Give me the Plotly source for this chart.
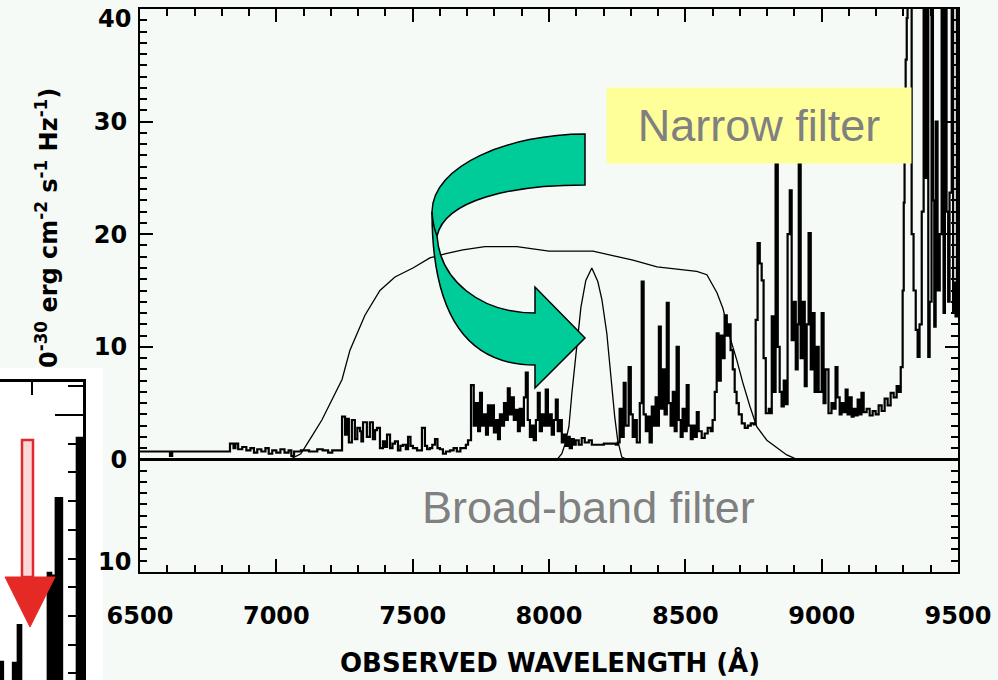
import plotly.graph_objects as go

W, H = 998, 680

# ---------------- data ----------------
spec_wave = [6500, 6610, 6618, 6830, 6843, 6850, 6860, 6875, 6890, 6905, 6918, 6930, 6945, 6960, 6972, 6985,
             7000, 7015, 7030, 7045, 7055, 7065, 7090, 7120, 7150, 7170, 7190, 7205, 7241, 7252, 7259, 7266,
             7277, 7288, 7297, 7307, 7312, 7318, 7332, 7343, 7354, 7362, 7369, 7380, 7391, 7398, 7406, 7417,
             7426, 7435, 7446, 7455, 7464, 7475, 7483, 7492, 7501, 7516, 7534, 7545, 7553, 7563, 7572, 7582,
             7591, 7600, 7611, 7622, 7637, 7650, 7662, 7675, 7684, 7695, 7703,
             7714, 7724, 7732, 7740, 7747, 7754, 7761, 7769, 7776, 7783, 7791, 7798, 7805, 7813, 7820, 7827,
             7835, 7842, 7849, 7856, 7864, 7871, 7878, 7886, 7893, 7900, 7908, 7915, 7922, 7930, 7937, 7944,
             7952, 7959, 7966, 7974, 7981, 7988, 7996, 8003, 8010, 8018, 8025, 8032, 8040, 8047, 8054, 8062,
             8069, 8076, 8084, 8091, 8098, 8109, 8120, 8131, 8146, 8157, 8201, 8245,
             8252, 8259, 8267, 8274, 8281, 8292, 8300, 8307, 8314, 8322, 8333, 8340, 8347, 8355, 8362, 8369,
             8377, 8384, 8391, 8399, 8403, 8410, 8417, 8424, 8432, 8439, 8446, 8454, 8461, 8468, 8476, 8483,
             8490, 8498, 8505, 8512, 8520, 8527, 8534, 8542, 8549, 8560, 8571, 8582, 8593, 8600, 8608, 8615,
             8622, 8630, 8637, 8644, 8652, 8659, 8666, 8674, 8681, 8688, 8696, 8707, 8718, 8729, 8740, 8751,
             8758, 8765, 8773, 8780, 8787, 8795, 8806, 8813, 8817, 8824, 8831, 8839, 8846, 8853, 8861, 8868,
             8875, 8883, 8890, 8897, 8905, 8912, 8916, 8923, 8930, 8938, 8945, 8952, 8960, 8967, 8974, 8982,
             8989, 9000, 9007, 9014, 9025, 9036, 9044, 9051, 9058, 9066, 9073, 9080, 9088, 9095, 9102, 9110,
             9117, 9124, 9132, 9139, 9146, 9154, 9165, 9176, 9187, 9198, 9209, 9220, 9231, 9242, 9253, 9264,
             9275, 9283, 9290, 9297, 9301, 9304, 9308, 9312, 9315, 9322, 9330, 9337, 9345, 9352, 9359, 9367,
             9374, 9381, 9385, 9391, 9396, 9403, 9408, 9413, 9418, 9425, 9433, 9440, 9447, 9452, 9458, 9464,
             9469, 9477, 9482, 9486, 9491, 9496, 9500]
spec_flux = [0.7, 0.3, 0.7, 1.4, 1.0, 1.4, 0.9, 1.1, 0.8, 1.0, 0.6, 0.9, 0.7, 1.0, 0.5, 0.8,
             0.6, 0.9, 0.6, 0.8, 0.3, 0.7, 0.8, 0.7, 0.9, 0.8, 0.6, 0.8, 3.8, 2.2, 3.6, 1.5,
             3.5, 1.8, 2.8, 2.5, 1.6, 3.3, 2.0, 3.3, 1.8, 2.6, 2.8, 1.0, 1.6, 1.1, 2.2, 1.0,
             1.4, 1.6, 0.8, 1.2, 1.3, 0.9, 2.0, 1.2, 1.0, 0.8, 2.8, 1.2, 0.9, 1.0, 1.3, 1.8,
             1.0, 0.9, 0.5, 0.7, 0.8, 1.0, 0.7, 1.0, 1.0, 1.3, 1.7,
             6.6, 3.0, 5.0, 2.5, 5.9, 3.0, 4.0, 2.2, 4.8, 3.0, 4.8, 2.4, 3.5, 1.8, 4.0, 3.0,
             5.0, 3.5, 6.3, 4.0, 5.5, 3.5, 4.4, 2.5, 4.5, 3.0, 5.5, 7.7, 3.5, 2.0, 3.0, 1.7,
             3.5, 5.9, 2.5, 4.0, 3.0, 6.2, 3.0, 4.0, 2.2, 3.5, 5.3, 2.5, 3.5, 1.5, 2.2, 1.2,
             2.0, 1.0, 1.8, 1.3, 1.7, 1.3, 1.9, 1.5, 1.7, 1.3, 1.4, 1.3,
             1.5, 4.5, 2.0, 6.8, 3.0, 8.2, 4.0, 2.0, 3.5, 1.5, 5.0, 15.8, 4.0, 2.5, 3.8, 1.5,
             4.7, 3.0, 5.5, 3.0, 11.8, 4.5, 8.0, 4.0, 13.9, 5.0, 3.0, 6.0, 2.5, 10.0, 3.5, 2.0,
             4.5, 2.5, 6.6, 3.0, 1.8, 3.0, 2.0, 4.2, 2.5, 1.9, 2.3, 2.8, 2.5, 3.5, 6.0, 11.2,
             7.0, 11.0, 9.0, 12.8, 11.0, 12.0, 9.7, 8.0, 6.0, 5.0, 4.0, 3.2, 2.8, 3.0, 3.2, 3.1,
             12.4, 19.2, 17.4, 15.9, 9.0, 4.1, 4.5, 4.1, 12.7, 6.0, 28.0, 10.0, 6.0, 4.7, 7.0, 4.9,
             20.0, 23.9, 10.6, 14.0, 8.0, 12.0, 26.3, 9.0, 14.0, 6.5, 12.0, 20.1, 8.0, 13.0, 6.0, 10.0,
             6.0, 13.0, 5.0, 8.0, 4.1, 5.0, 4.5, 8.2, 5.5, 4.0, 5.0, 4.2, 6.2, 4.0, 5.5, 3.8,
             4.5, 3.9, 5.3, 4.0, 5.9, 4.2, 4.5, 3.9, 4.3, 4.0, 4.8, 4.3, 5.4, 4.8, 5.9, 5.5,
             6.5, 6.0, 8.2, 15.0, 22.8, 30.0, 35.5, 39.2, 55.0, 60.0, 20.0, 15.0, 11.5, 9.1, 12.0, 22.0,
             60.0, 25.0, 60.0, 9.1, 14.0, 60.0, 23.0, 11.8, 30.0, 15.0, 20.0, 60.0, 13.0, 60.0, 22.0, 14.0,
             23.7, 60.0, 13.0, 15.7, 12.7, 60.0, 14.0]

broad_wave = [6500, 7050, 7090, 7112, 7134, 7167, 7197, 7226, 7241, 7270, 7325, 7380, 7435, 7501, 7563,
              7626, 7684, 7765, 7882, 8000, 8161, 8234, 8308, 8396, 8542, 8579, 8616, 8638, 8663, 8689,
              8711, 8737, 8762, 8799, 8836, 8872, 8909, 9500]
broad_flux = [0.0, 0.0, 0.5, 1.3, 2.2, 3.5, 5.0, 6.4, 7.1, 9.7, 12.8, 15.0, 16.2, 17.0, 17.9,
              18.3, 18.6, 18.9, 18.9, 18.5, 18.5, 18.1, 17.7, 17.1, 16.7, 16.4, 14.8, 13.4, 10.9, 8.8,
              6.8, 4.7, 2.9, 1.7, 1.0, 0.4, 0.0, 0.0]

narrow_wave = [8030, 8047, 8058, 8073, 8084, 8095, 8106, 8117, 8135, 8157, 8179, 8194, 8212, 8223, 8241,
               8252, 8267, 8285]
narrow_flux = [0.0, 0.5, 1.3, 2.9, 5.9, 8.6, 11.2, 13.5, 15.9, 17.0, 15.8, 14.2, 11.2, 8.2, 3.8,
               1.7, 0.2, 0.0]

x_ticks = [6500, 7000, 7500, 8000, 8500, 9000, 9500]
y_ticks = [-10, 0, 10, 20, 30, 40]

# cropped inset from another figure (arbitrary units)
inset_wave = [0.00, 0.09, 0.41, 0.53, 0.56, 0.66, 1.50, 1.60, 1.66, 1.75, 1.81, 1.84, 1.94, 2.41, 2.60]
inset_flux = [1.40, 0.00, 1.36, 0.00, 2.68, 0.00, 4.50, 0.00, 4.40, 7.10, 5.00, 7.10, 0.00, 9.20, 9.20]

BG = "#F6FAF7"
TICKFONT = dict(family="DejaVu Sans", size=24, color="black", weight="bold")


def P(xp, yp):
    return f"{xp / W:.5f},{1 - yp / H:.5f}"


def tick_label(v):
    return f"{v}".replace("-", "\u2212")


# end labels sit just inside the axis range (IDL style); inner labels are regular tick labels
y_ticktext = ["" if v in (y_ticks[0], y_ticks[-1]) else tick_label(v) for v in y_ticks]

fig = go.Figure()

fig.add_trace(go.Scatter(x=broad_wave, y=broad_flux, mode="lines",
                         line=dict(color="black", width=1.3), hoverinfo="skip"))
fig.add_trace(go.Scatter(x=narrow_wave, y=narrow_flux, mode="lines",
                         line=dict(color="black", width=1.3), hoverinfo="skip"))
fig.add_trace(go.Scatter(x=spec_wave, y=spec_flux, mode="lines",
                         line=dict(color="black", width=2.2, shape="hv"), hoverinfo="skip"))
fig.add_trace(go.Scatter(x=inset_wave, y=inset_flux, mode="lines", xaxis="x2", yaxis="y2",
                         line=dict(color="black", width=2.5, shape="hv"),
                         fill="tozeroy", fillcolor="black", hoverinfo="skip"))

fig.update_layout(
    template="none",
    width=W, height=H, autosize=False,
    margin=dict(l=0, r=0, t=0, b=0, pad=0),
    paper_bgcolor=BG, plot_bgcolor="rgba(0,0,0,0)",
    showlegend=False,
    xaxis=dict(domain=[140 / W, 958 / W], range=[6500, 9500], tickvals=x_ticks, automargin=False,
               ticks="inside", ticklen=13, tickwidth=2, tickcolor="black",
               minor=dict(dtick=100, ticks="inside", ticklen=7, tickwidth=1.5, tickcolor="black"),
               showline=True, linecolor="black", linewidth=2, mirror="ticks",
               showgrid=False, zeroline=False, tickfont=TICKFONT, ticklabelstandoff=21,
               ticklabeloverflow="allow"),
    yaxis=dict(domain=[1 - 572 / H, 1 - 9 / H], range=[-10, 40], tickvals=y_ticks, ticktext=y_ticktext,
               automargin=False,
               ticks="inside", ticklen=13, tickwidth=2, tickcolor="black",
               minor=dict(dtick=1, ticks="inside", ticklen=7, tickwidth=1.5, tickcolor="black"),
               showline=True, linecolor="black", linewidth=2, mirror="ticks",
               showgrid=False, zeroline=True, zerolinecolor="black", zerolinewidth=2.5,
               tickfont=TICKFONT, ticklabelstandoff=6, ticklabeloverflow="allow"),
    xaxis2=dict(domain=[0, 83 / W], anchor="y2", side="top", range=[0, 2.6], tickvals=[1],
                automargin=False,
                ticks="inside", ticklen=13, tickwidth=2, tickcolor="black",
                showticklabels=False, showline=True, linecolor="black", linewidth=3,
                showgrid=False, zeroline=False),
    yaxis2=dict(domain=[0, 1 - 382 / H], anchor="x2", side="right", range=[0.77, 11.15], tickvals=[10],
                automargin=False,
                ticks="inside", ticklen=28, tickwidth=2, tickcolor="black",
                minor=dict(dtick=1, ticks="inside", ticklen=15, tickwidth=2, tickcolor="black"),
                showticklabels=False, showline=True, linecolor="black", linewidth=3,
                showgrid=False, zeroline=False),
)

arrow_path = (f"M {P(585,134)} C {P(510,134)} {P(432,165)} {P(432,212)} "
              f"C {P(432,320)} {P(470,365)} {P(535,365)} L {P(535,388)} L {P(585,338)} "
              f"L {P(535,287)} L {P(535,313)} C {P(480,313)} {P(440,280)} {P(437,236)} "
              f"C {P(445,200)} {P(510,185)} {P(585,185)} Z")
fold_path = f"M {P(432,212)} Q {P(433,226)} {P(437,236)}"
head_path = f"M {P(5,577)} L {P(55,577)} L {P(30,627)} Z"

fig.update_layout(shapes=[
    dict(type="rect", xref="paper", yref="paper", x0=0, x1=103 / W, y0=0, y1=1 - 368 / H,
         fillcolor="white", line=dict(width=0), layer="below"),
    dict(type="rect", xref="paper", yref="paper", x0=22 / W, x1=33 / W, y0=1 - 577 / H, y1=1 - 440 / H,
         fillcolor="#F7D9D7", line=dict(color="#E0282E", width=2.5), layer="above"),
    dict(type="path", xref="paper", yref="paper", path=head_path,
         fillcolor="#E52A26", line=dict(color="#E52A26", width=1), layer="above"),
    dict(type="path", xref="paper", yref="paper", path=arrow_path,
         fillcolor="#00CC99", line=dict(color="black", width=1.5), layer="above"),
    dict(type="path", xref="paper", yref="paper", path=fold_path,
         line=dict(color="black", width=1.5), layer="above"),
])

fig.update_layout(annotations=[
    # y-axis end labels, nudged inside the frame like the original IDL plot
    dict(text=tick_label(y_ticks[-1]), xref="paper", yref="paper", x=133 / W, y=1 - 19 / H,
         xanchor="right", yanchor="middle", showarrow=False, font=TICKFONT),
    dict(text=tick_label(y_ticks[0]).replace("\u2212", ""), xref="paper", yref="paper",
         x=133 / W, y=1 - 562 / H,
         xanchor="right", yanchor="middle", showarrow=False, font=TICKFONT),
    dict(text="Narrow filter", xref="paper", yref="paper", x=759 / W, y=1 - 125.5 / H,
         xanchor="center", yanchor="middle", showarrow=False, width=304, height=75,
         bgcolor="#FFFF99", borderpad=0,
         font=dict(family="Liberation Sans", size=45, color="#808080")),
    dict(text="Broad-band filter", xref="paper", yref="paper", x=588 / W, y=1 - 507 / H,
         xanchor="center", yanchor="middle", showarrow=False,
         font=dict(family="Liberation Sans", size=45, color="#808080")),
    dict(text="OBSERVED WAVELENGTH (Å)", xref="paper", yref="paper", x=550 / W, y=1 - 662 / H,
         xanchor="center", yanchor="middle", showarrow=False,
         font=dict(family="DejaVu Sans", size=26, color="black", weight="bold")),
    dict(text="0<sup>-30</sup> erg cm<sup>-2</sup> s<sup>-1</sup> Hz<sup>-1</sup>)",
         xref="paper", yref="paper", x=47 / W, y=1 - 86 / H, textangle=-90,
         xanchor="center", yanchor="top", showarrow=False,
         font=dict(family="DejaVu Sans", size=24, color="black", weight="bold")),
])

fig.write_html(
    "out.html",
    config={"displayModeBar": False},
    post_script="document.body.style.margin='0px';document.body.style.overflow='hidden';"
                "document.body.style.background='" + BG + "';",
)
